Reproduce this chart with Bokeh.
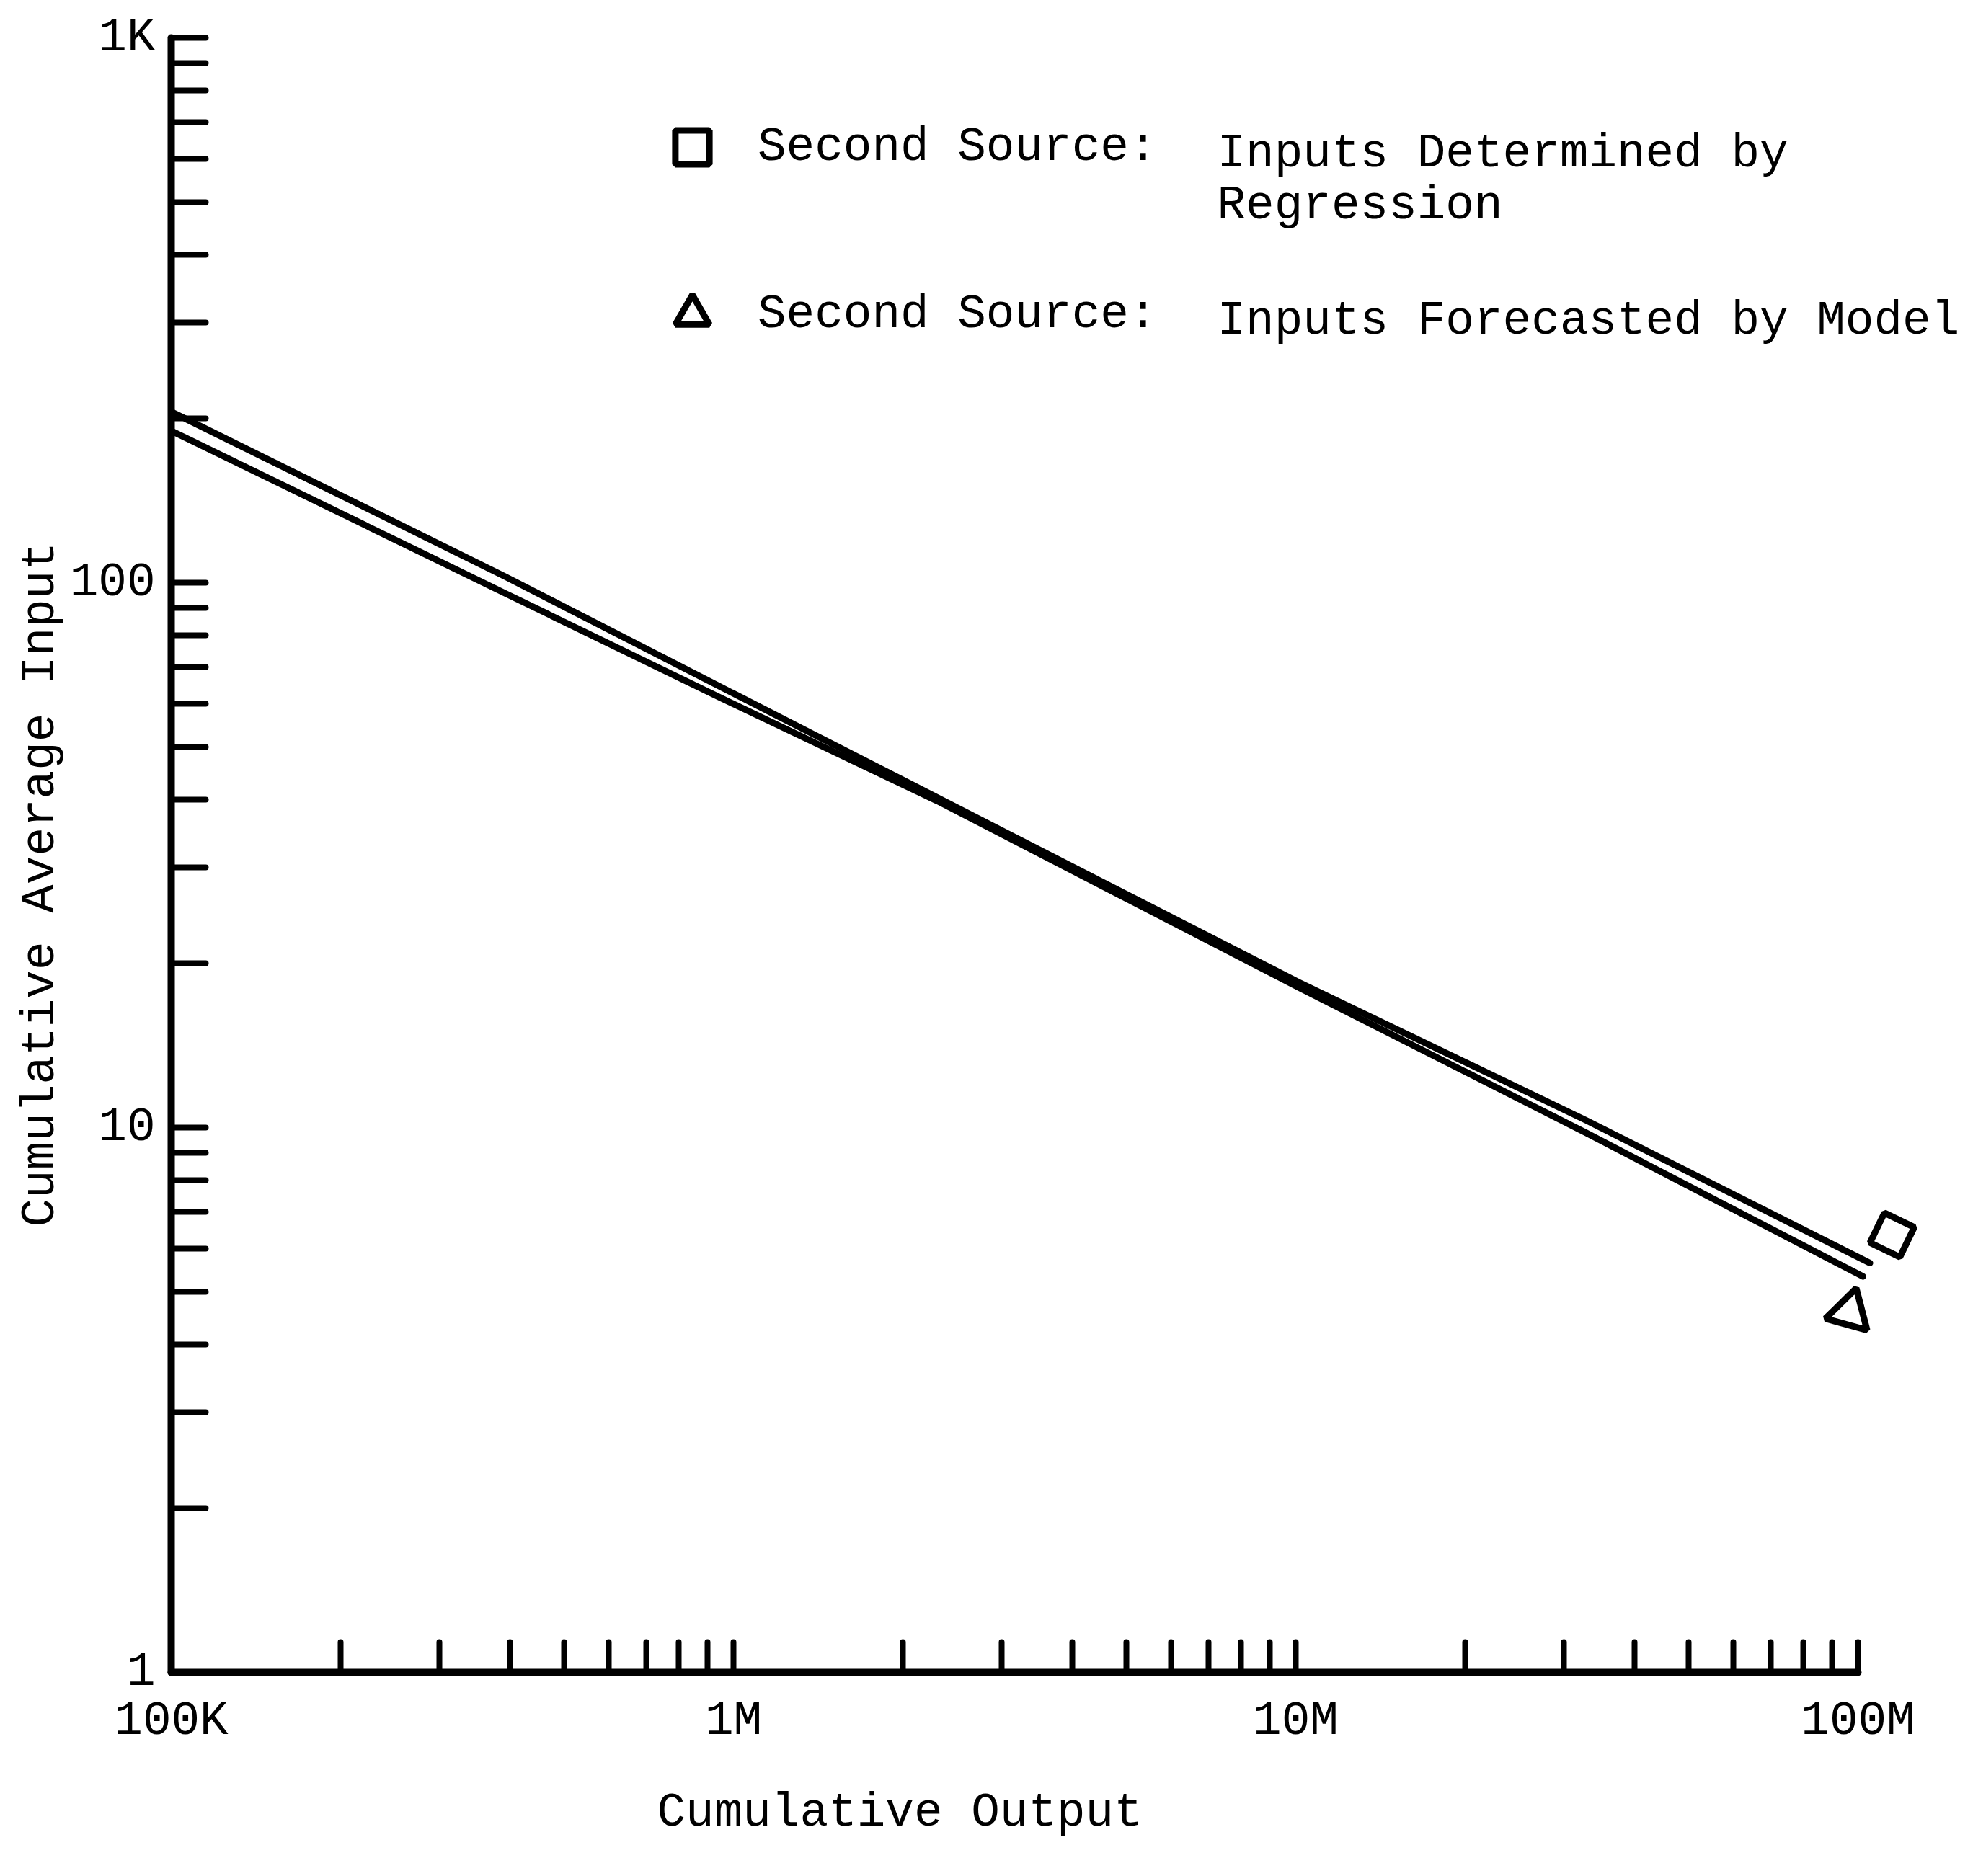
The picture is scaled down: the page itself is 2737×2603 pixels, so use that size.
from bokeh.plotting import figure
from bokeh.models import FixedTicker, Label, Legend, LegendItem, Range1d, Title
from bokeh.embed import file_html
from bokeh.resources import INLINE

# ---------------- data ----------------
regression_output = [1.0e5, 3.92e5, 9.51e5, 3.10e6, 1.01e7, 3.29e7, 1.05e8]
regression_input = [206, 102.7, 64.3, 34.5, 18.5, 10.3, 5.64]

model_output = [1.0e5, 3.92e5, 9.51e5, 2.31e6, 1.01e7, 3.29e7, 1.02e8]
model_input = [190, 95.7, 61.4, 39.7, 18.1, 9.77, 5.33]

square_output = [1.15e8]
square_input = [6.35]
triangle_output = [9.66e7]
triangle_input = [4.58]

x_major = [100000, 1000000, 10000000, 100000000]
x_labels = ["100K", "1M", "10M", "100M"]
x_minor = [200000, 300000, 400000, 500000, 600000, 700000, 800000, 900000,
           2000000, 3000000, 4000000, 5000000, 6000000, 7000000, 8000000, 9000000,
           20000000, 30000000, 40000000, 50000000, 60000000, 70000000, 80000000, 90000000]

y_major = [1, 10, 100, 1000]
y_labels = ["1", "10", "100", "1K"]
y_minor = [2, 3, 4, 5, 6, 7, 8, 9,
           20, 30, 40, 50, 60, 70, 80, 90,
           200, 300, 400, 500, 600, 700, 800, 900]

legend_labels = ["Second Source:", "Second Source:"]
legend_texts = ["Inputs Determined by", "Regression", "Inputs Forecasted by Model"]
x_title = "Cumulative Output"
y_title = "Cumulative Average Input"

# ---------------- layout ----------------
W, H = 2737, 2603
FRAME_LEFT, FRAME_RIGHT = 237, 2737
FRAME_TOP, FRAME_BOTTOM = 52, 2320
DECADE_PX = 780.0
x_end = x_major[0] * 10 ** ((FRAME_RIGHT - FRAME_LEFT) / DECADE_PX)

FONT = "Liberation Mono"
FS = "66px"

p = figure(width=W, height=H, x_axis_type="log", y_axis_type="log",
           x_range=Range1d(x_major[0], x_end), y_range=Range1d(y_major[0], y_major[-1]),
           output_backend="svg", toolbar_location=None,
           min_border_left=FRAME_LEFT, min_border_right=W - FRAME_RIGHT,
           min_border_top=FRAME_TOP, min_border_bottom=H - FRAME_BOTTOM)
p.title.text = ""
p.xgrid.visible = False
p.ygrid.visible = False
p.outline_line_color = None
p.background_fill_color = "white"
p.border_fill_color = "white"

xa = p.xaxis[0]
xa.ticker = FixedTicker(ticks=x_major, minor_ticks=x_minor)
xa.major_label_overrides = {t: l for t, l in zip(x_major, x_labels)}
xa.bounds = (x_major[0], x_major[-1])
ya = p.yaxis[0]
ya.ticker = FixedTicker(ticks=y_major, minor_ticks=y_minor)
ya.major_label_overrides = {t: l for t, l in zip(y_major, y_labels)}

for ax, tl, so in ((xa, 42, 30), (ya, 48, 22)):
    ax.axis_line_width = 10
    ax.axis_line_color = "black"
    ax.axis_line_cap = "round"
    ax.major_tick_in = tl
    ax.major_tick_out = 0
    ax.minor_tick_in = tl
    ax.minor_tick_out = 0
    ax.major_tick_line_width = 8
    ax.minor_tick_line_width = 8
    ax.major_tick_line_color = "black"
    ax.minor_tick_line_color = "black"
    ax.major_tick_line_cap = "round"
    ax.minor_tick_line_cap = "round"
    ax.major_label_text_font = FONT
    ax.major_label_text_font_size = FS
    ax.major_label_text_color = "black"
    ax.major_label_standoff = so

# ---------------- series ----------------
p.line(regression_output, regression_input, line_width=9, line_color="black",
       line_cap="round", line_join="round")
p.line(model_output, model_input, line_width=9, line_color="black",
       line_cap="round", line_join="round")

sq = p.scatter(square_output, square_input, marker="square", size=46, angle=-0.45,
               fill_color=None, line_color="black", line_width=9)
tri = p.scatter(triangle_output, triangle_input, marker="triangle", size=60, angle=-0.27,
                fill_color=None, line_color="black", line_width=9)

# ---------------- legend ----------------
glyph = 118
item1_center = 204
item2_center = 436
spacing = item2_center - item1_center - glyph
legend_h = 2 * glyph + spacing
leg_top = item1_center - glyph // 2
legend = Legend(items=[LegendItem(label=legend_labels[0], renderers=[sq]),
                       LegendItem(label=legend_labels[1], renderers=[tri])],
                location=(960 - glyph // 2 - FRAME_LEFT, FRAME_BOTTOM - leg_top - legend_h),
                orientation="vertical", glyph_width=glyph, glyph_height=glyph,
                spacing=spacing, padding=0, margin=0, label_standoff=int(1051 - 960 - glyph // 2),
                label_text_font=FONT, label_text_font_size=FS, label_text_color="black",
                border_line_color=None, background_fill_alpha=0)
p.add_layout(legend)

text_x = 1688 - FRAME_LEFT
for txt, yc in zip(legend_texts, [213, 285, 445]):
    p.add_layout(Label(x=text_x, y=FRAME_BOTTOM - yc, x_units="screen", y_units="screen",
                       text=txt, text_font=FONT, text_font_size=FS,
                       text_color="black", text_align="left", text_baseline="middle"))

# axis titles (as side titles so they can sit off-centre like the original)
p.add_layout(Title(text=x_title, align="left", offset=911 - FRAME_LEFT, standoff=94,
                   text_font=FONT, text_font_size=FS, text_font_style="normal",
                   text_color="black"), "below")
p.add_layout(Title(text=y_title, align="left", offset=FRAME_BOTTOM - 1702, standoff=0,
                   text_font=FONT, text_font_size=FS, text_font_style="normal",
                   text_color="black"), "left")

open("out.html", "w").write(file_html(p, INLINE))
